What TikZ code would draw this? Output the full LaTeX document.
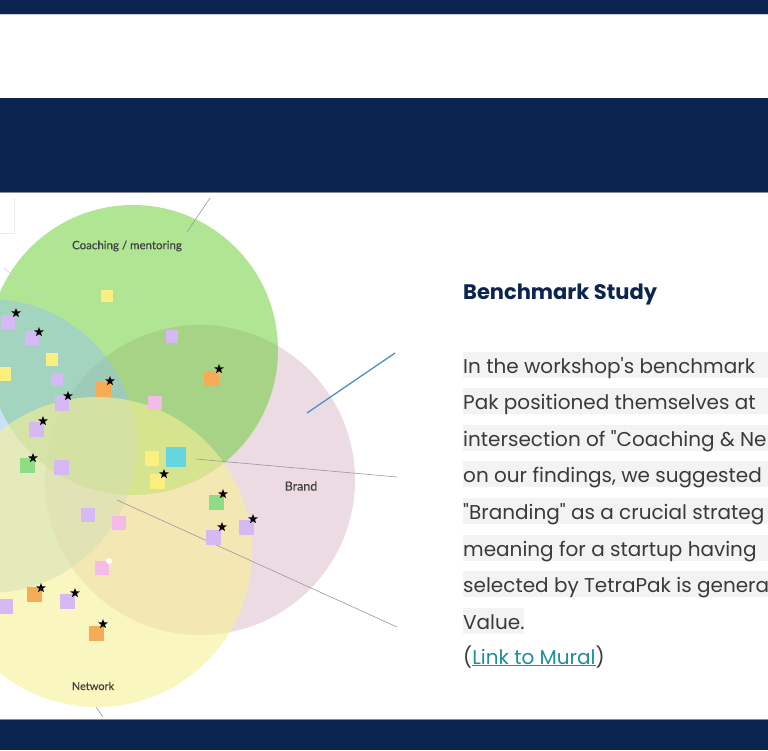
\documentclass[tikz,border=0pt]{standalone}
\usepackage{fontspec}
\setmainfont{Poppins}[Ligatures=TeXOff]
\newfontfamily\labelfont{Lato}[FakeBold=0.4]
\usetikzlibrary{shapes.geometric}
\definecolor{navy}{HTML}{0B2550}
\definecolor{navyline}{HTML}{C9D3DE}
\definecolor{pinkc}{RGB}{208,165,185}
\definecolor{greenc}{RGB}{99,205,43}
\definecolor{bluec}{RGB}{150,196,235}
\definecolor{yellowc}{RGB}{248,240,150}
\definecolor{lav}{HTML}{D5B8F4}
\definecolor{stky}{HTML}{FBEF80}
\definecolor{stko}{HTML}{F6AC57}
\definecolor{stkp}{HTML}{F4BAEA}
\definecolor{stkg}{HTML}{8EDC84}
\definecolor{stkc}{HTML}{63D6DF}
\definecolor{hlgray}{HTML}{F3F3F3}
\definecolor{bodygray}{HTML}{3A3A3A}
\definecolor{linkc}{HTML}{1C8E9C}
\definecolor{bluel}{HTML}{4D90C9}
\tikzset{
  sticky/.style={minimum width=14pt, minimum height=14pt, inner sep=0pt, draw=none},
  starmark/.style={star, star points=5, star point ratio=2.4, fill=black, minimum size=10pt, inner sep=0pt},
  vlabel/.style={font=\labelfont\fontsize{11.5}{11.5}\selectfont, text=black!75, inner sep=0pt},
  bodyline/.style={anchor=base west, inner xsep=0pt, inner ysep=0pt, text height=21pt, text depth=5pt, text=bodygray, font=\fontsize{20}{20}\selectfont},
  hlbar/.style={fill=hlgray},
  faint/.style={draw=black!40, line width=0.6pt}
}
\begin{document}
\begin{tikzpicture}[x=1pt,y=-1pt]
\useasboundingbox (0,0) rectangle (768,750);
\fill[white] (0,0) rectangle (768,750);
% bands
\fill[navy] (0,0) rectangle (768,14);
\draw[navyline, line width=1pt] (0,14.5) -- (768,14.5);
\fill[navy] (0,98) rectangle (768,192);
\draw[black!45, line width=1pt] (0,192) -- (768,192);
\fill[navy] (0,720) rectangle (768,750);
\draw[black!45, line width=1pt] (0,719.5) -- (768,719.5);

% venn
\begin{scope}
\clip (0,193) rectangle (400,719);
\draw[black!8, line width=0.8pt] (14,198) -- (14,233) -- (0,233);
\fill[pinkc, fill opacity=0.4] (200,480) circle[radius=155pt];
\fill[greenc, fill opacity=0.5] (133,350) circle[radius=145pt];
\fill[bluec, fill opacity=0.5] (-11,446) circle[radius=147pt];
\fill[yellowc, fill opacity=0.6] (97,552) circle[radius=155pt];
\coordinate (la1) at (210,198); \coordinate (la2) at (187,232);
\draw[faint] (la1) -- (la2);
\coordinate (lb1) at (4,268); \coordinate (lb2) at (44,301);
\draw[draw=black!18, line width=0.6pt] (lb1) -- (lb2);
\coordinate (lc1) at (307,413); \coordinate (lc2) at (395,353);
\draw[bluel, line width=1.3pt] (lc1) -- (lc2);
\coordinate (ld1) at (196,459); \coordinate (ld2) at (397,477);
\draw[faint] (ld1) -- (ld2);
\coordinate (le1) at (117,500); \coordinate (le2) at (397,627);
\draw[faint] (le1) -- (le2);
\coordinate (lf1) at (96,707); \coordinate (lf2) at (103,717);
\draw[faint] (lf1) -- (lf2);

\node[vlabel] (coach) at (127,246) {Coaching / mentoring};
\node[vlabel, font=\labelfont\fontsize{12.5}{12.5}\selectfont] (brand) at (301,486) {Brand};
\node[vlabel, font=\labelfont\fontsize{11}{11}\selectfont] (network) at (93,686) {Network};

% sticky notes
\node[sticky, fill=stky, minimum size=12pt] (s1) at (107,296) {};
\node[sticky, fill=lav] (s2) at (8,322) {};
\node[sticky, fill=lav] (s3) at (32,338) {};
\node[sticky, fill=stky, minimum width=12pt, minimum height=13pt] (s4) at (52,359) {};
\node[sticky, fill=stky] (s5) at (4,374) {};
\node[sticky, fill=lav, minimum width=12pt, minimum height=13pt] (s6) at (57,379) {};
\node[sticky, fill=stko, minimum size=15pt] (s7) at (103,389) {};
\node[sticky, fill=lav, minimum height=16pt] (s8) at (62,403) {};
\node[sticky, fill=lav, minimum size=15pt] (s9) at (36,429) {};
\node[sticky, fill=lav, minimum width=12pt, minimum height=13pt] (s10) at (172,336) {};
\node[sticky, fill=stko, minimum size=15pt] (s11) at (211,378) {};
\node[sticky, fill=stkp] (s12) at (155,403) {};
\node[sticky, fill=stkg, minimum size=15pt] (s13) at (27,465) {};
\node[sticky, fill=lav, minimum size=15pt] (s14) at (61,467) {};
\node[sticky, fill=stky, minimum height=15pt] (s15) at (152,458) {};
\node[sticky, fill=stkc, minimum size=20pt] (s16) at (176,457) {};
\node[sticky, fill=stky, minimum size=15pt] (s17) at (157,481) {};
\node[sticky, fill=lav] (s18) at (88,515) {};
\node[sticky, fill=stkp] (s19) at (119,523) {};
\node[sticky, fill=stkg, minimum size=15pt] (s20) at (216,502) {};
\node[sticky, fill=lav, minimum size=15pt] (s21) at (213,537) {};
\node[sticky, fill=lav, minimum size=15pt] (s22) at (246,527) {};
\node[sticky, fill=stkp] (s23) at (102,568) {};
\node[circle, fill=white, minimum size=6pt, inner sep=0pt] (dot) at (109,561) {};
\node[sticky, fill=stko, minimum size=15pt] (s24) at (34,594) {};
\node[sticky, fill=lav, minimum size=15pt] (s25) at (67,601) {};
\node[sticky, fill=lav, minimum size=15pt] (s26) at (5,606) {};
\node[sticky, fill=stko, minimum size=15pt] (s27) at (96,633) {};

% stars
\node[starmark] (t2) at (16,313) {};
\node[starmark] (t3) at (39,332) {};
\node[starmark] (t7) at (110,381) {};
\node[starmark] (t8) at (68,396) {};
\node[starmark] (t9) at (43,421) {};
\node[starmark] (t11) at (219,369) {};
\node[starmark] (t13) at (33,458) {};
\node[starmark] (t17) at (164,474) {};
\node[starmark] (t20) at (223,494) {};
\node[starmark] (t21) at (222,527) {};
\node[starmark] (t22) at (253,519) {};
\node[starmark] (t24) at (41,588) {};
\node[starmark] (t25) at (75,593) {};
\node[starmark] (t27) at (103,624) {};
\end{scope}

% text panel highlights
\foreach \yy in {373,409,446,482,519,556,592} {
  \fill[hlbar] (463,\yy-21) rectangle (768,\yy+5);
}
\fill[hlbar] (463,608) rectangle (524,634);

\node[anchor=base west, inner sep=0pt, text=navy, font=\bfseries\fontsize{21}{21}\selectfont] (title) at (463,299) {Benchmark Study};
\node[bodyline] (b1) at (463,373) {In the workshop's benchmark};
\node[bodyline] (b2) at (463,409) {Pak positioned themselves at};
\node[bodyline] (b3) at (463,446) {intersection of "Coaching \& Ne};
\node[bodyline] (b4) at (463,482) {on our findings, we suggested};
\node[bodyline] (b5) at (463,519) {"Branding" as a crucial strateg};
\node[bodyline] (b6) at (463,556) {meaning for a startup having};
\node[bodyline] (b7) at (463,592) {selected by TetraPak is genera};
\node[bodyline] (b8) at (463,629) {Value.};
\node[anchor=base west, inner sep=0pt, text=bodygray, font=\fontsize{20}{20}\selectfont] (link) at (463,664) {(\textcolor{linkc}{\underline{Link to Mural}})};
\end{tikzpicture}
\end{document}
